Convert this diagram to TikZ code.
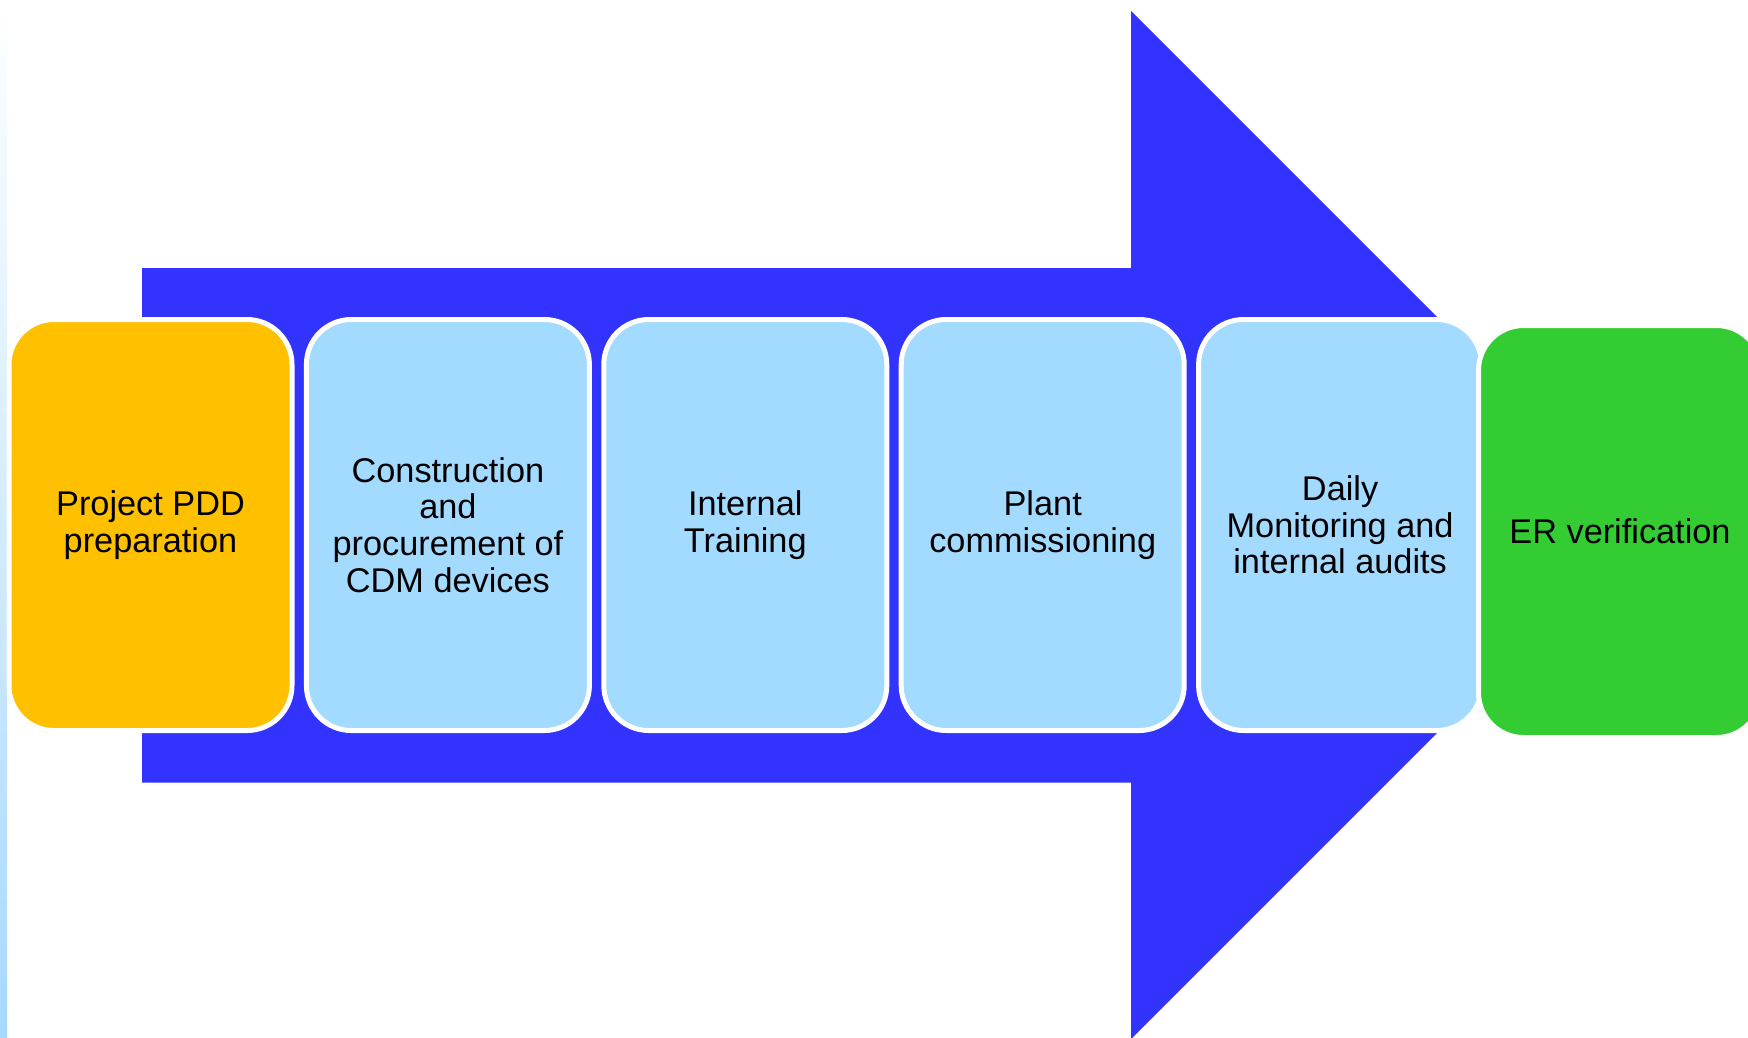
\documentclass[tikz,border=0pt]{standalone}
\usepackage{fontspec}
\setmainfont{Liberation Sans}
\definecolor{arrowblue}{HTML}{3333FF}
\definecolor{stepyellow}{HTML}{FFC000}
\definecolor{steplight}{HTML}{A3DAFF}
\definecolor{stepgreen}{HTML}{33CC33}
\definecolor{stripblue}{HTML}{A8D8FF}
\begin{document}
\begin{tikzpicture}[x=1pt,y=-1pt,
  stepbox/.style={draw=white, line width=5pt, rounded corners=45pt,
    minimum width=283pt, minimum height=411pt, align=center, inner sep=0pt,
    font=\fontsize{34.3}{36.7}\selectfont, text=black},
  lightbox/.style={stepbox, fill=steplight},
]
\useasboundingbox (0,0) rectangle (1748,1037);
\clip (0,0) rectangle (1748,1037);
\fill[white] (0,0) rectangle (1748,1037);
% left gradient strip
\shade[top color=white, bottom color=stripblue] (0,0) rectangle (7,1037);
% big arrow
\fill[arrowblue] (142,268) -- (1131,268) -- (1131,11) -- (1645,525)
  -- (1131,1039) -- (1131,782.5) -- (142,782.5) -- cycle;
% steps
\node[stepbox, fill=stepyellow] (s1) at (150.5,525) {Project PDD\\preparation};
\node[lightbox] (s2) at (447.9,525) {Construction\\and\\procurement of\\CDM devices};
\node[lightbox] (s3) at (745.3,525) {Internal\\Training};
\node[lightbox] (s4) at (1042.7,525) {Plant\\commissioning};
\node[lightbox] (s5) at (1340.1,525) {Daily\\Monitoring and\\internal audits};
\node[stepbox, fill=stepgreen, minimum height=412pt] (s6) at (1620,531.5) {ER verification};
\end{tikzpicture}
\end{document}
